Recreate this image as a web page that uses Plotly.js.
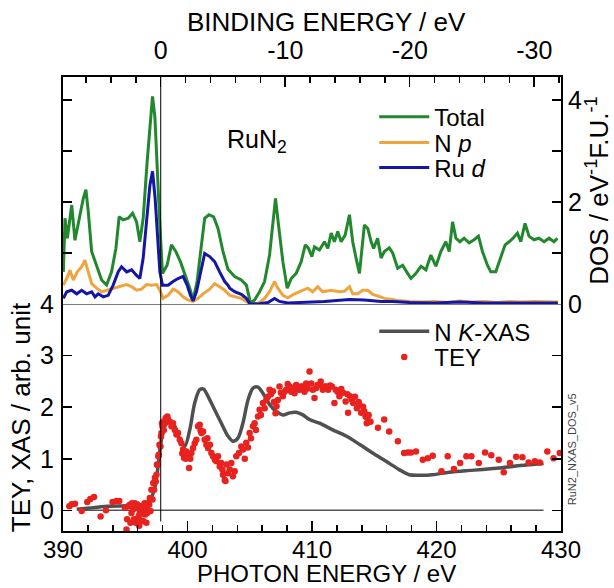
<!DOCTYPE html>
<html><head><meta charset="utf-8">
<script src="https://cdn.plot.ly/plotly-3.0.1.min.js"></script>
<style>html,body{margin:0;padding:0;background:#fff}#chart{width:614px;height:588px}</style>
</head><body><div id="chart"></div>
<script>
// ---- DOS (top panel, binding energy axis) ----
const totalBE=[7.82,7.69,7.50,7.15,6.89,6.54,6.22,6.01,5.82,5.55,5.15,4.75,4.35,3.95,3.60,3.34,3.02,2.61,2.26,1.94,1.68,1.41,1.09,0.87,0.66,0.47,0.29,0.07,-0.14,-0.51,-0.86,-1.21,-1.58,-2.01,-2.33,-2.60,-2.92,-3.27,-3.53,-3.88,-4.25,-4.60,-5.00,-5.40,-5.94,-6.47,-6.88,-7.22,-7.54,-7.94,-8.34,-8.74,-9.01,-9.22,-9.46,-9.81,-10.16,-10.48,-10.88,-11.28,-11.61,-11.87,-12.14,-12.35,-12.75,-13.15,-13.42,-13.69,-13.95,-14.22,-14.49,-14.81,-15.16,-15.42,-15.69,-15.96,-16.14,-16.36,-16.63,-16.90,-17.10,-17.42,-17.70,-17.96,-18.36,-18.63,-19.03,-19.43,-19.83,-20.10,-20.50,-20.90,-21.30,-21.70,-22.10,-22.50,-22.90,-23.17,-23.44,-23.71,-24.03,-24.37,-24.77,-25.17,-25.52,-25.84,-26.24,-26.51,-26.91,-27.31,-27.66,-27.98,-28.30,-28.65,-28.92,-29.26,-29.58,-29.98,-30.38,-30.79,-31.19,-31.59,-31.86];
const totalDOS=[0.63,1.68,1.29,1.94,1.25,1.68,2.07,2.24,1.81,1.03,0.76,0.47,0.37,0.63,1.09,1.71,1.65,1.68,1.78,1.61,1.22,1.68,2.79,3.51,4.07,3.67,2.66,1.55,0.60,0.76,1.16,1.03,0.83,0.54,0.31,0.08,0.44,1.16,1.68,1.75,1.71,1.48,1.03,0.68,0.54,0.47,0.37,0.01,0.08,0.24,0.44,0.96,1.55,2.07,1.55,0.83,0.31,0.50,0.60,0.83,1.16,1.09,0.93,1.12,1.06,1.22,1.09,1.39,1.22,1.42,1.22,1.35,1.75,1.22,0.90,0.60,1.03,1.55,1.48,1.22,1.09,1.29,0.90,1.03,1.10,1.00,0.70,0.76,0.60,0.50,0.60,0.74,0.67,0.96,0.74,1.03,1.22,1.03,1.61,1.29,1.22,1.29,1.20,1.26,1.33,1.03,0.76,0.63,0.63,0.90,1.16,1.22,1.29,1.39,1.22,1.58,1.33,1.26,1.29,1.22,1.29,1.22,1.29];
const npBE=[7.82,7.55,7.29,7.02,6.70,6.35,6.09,5.82,5.55,5.15,4.75,4.35,3.82,3.28,2.74,2.34,1.94,1.54,1.14,0.74,0.34,0.07,-0.19,-0.59,-0.99,-1.39,-1.79,-2.19,-2.60,-3.00,-3.40,-3.93,-4.33,-4.73,-5.14,-5.54,-5.94,-6.47,-7.14,-7.81,-8.34,-8.74,-9.14,-9.41,-9.81,-10.21,-10.75,-11.28,-11.81,-12.21,-12.61,-13.01,-13.69,-14.36,-14.75,-15.16,-15.42,-15.82,-16.22,-16.63,-17.03,-17.42,-17.96,-18.63,-19.0,-20.0,-21.0,-22.0,-23.0,-24.0,-25.0,-26.0,-27.0,-28.0,-29.0,-30.0,-31.0,-31.9];
const npDOS=[0.37,0.50,0.66,0.47,0.63,0.73,0.86,0.63,0.40,0.31,0.24,0.27,0.31,0.34,0.38,0.34,0.27,0.29,0.38,0.37,0.38,0.27,0.11,0.17,0.29,0.24,0.14,0.08,0.05,0.11,0.20,0.29,0.40,0.34,0.27,0.17,0.14,0.11,0.01,0.01,0.11,0.24,0.44,0.31,0.17,0.12,0.20,0.25,0.31,0.24,0.34,0.24,0.27,0.24,0.25,0.34,0.20,0.20,0.27,0.27,0.19,0.16,0.11,0.09,0.07,0.05,0.04,0.05,0.03,0.06,0.04,0.05,0.03,0.05,0.04,0.05,0.04,0.04];
const rudBE=[7.82,7.55,7.15,6.75,6.35,5.95,5.55,5.28,5.02,4.62,4.22,3.82,3.42,3.15,2.74,2.34,1.94,1.68,1.41,1.09,0.87,0.66,0.45,0.26,0.07,-0.14,-0.59,-0.99,-1.39,-1.79,-2.12,-2.39,-2.60,-2.87,-3.19,-3.53,-3.93,-4.33,-4.73,-5.14,-5.40,-5.54,-5.94,-6.47,-6.88,-7.14,-7.81,-8.61,-9.14,-9.54,-10.21,-11.81,-13.15,-15.16,-16.36,-17.70,-18.63,-20.0,-22.0,-24.0,-26.0,-28.0,-30.0,-31.9];
const rudDOS=[0.11,0.24,0.27,0.20,0.27,0.20,0.24,0.14,0.20,0.14,0.17,0.37,0.63,0.73,0.63,0.67,0.56,0.50,0.90,1.81,2.33,2.60,2.07,1.35,0.63,0.37,0.37,0.44,0.50,0.54,0.37,0.17,0.06,0.24,0.63,0.99,0.93,0.83,0.63,0.44,0.37,0.31,0.24,0.19,0.11,0.01,0.00,0.03,0.11,0.05,0.02,0.03,0.05,0.09,0.08,0.05,0.05,0.03,0.02,0.04,0.02,0.02,0.02,0.02];

// ---- XAS / TEY (bottom panel, photon energy axis) ----
const fermiE=397.85;
const xasE=[391.1,392.4,393.5,395.1,396.4,397.0,397.4,397.64,397.9,398.18,398.58,398.98,399.38,399.78,400.18,400.58,400.98,401.3,401.65,402.18,402.72,403.25,403.65,404.05,404.45,404.86,405.26,405.66,406.06,406.6,407.13,407.66,408.2,408.73,409.26,409.8,410.6,411.67,412.74,413.81,414.87,415.95,417.0,417.8,418.6,419.68,421.0,422.36,423.7,425.03,426.37,427.7,428.6];
const xasV=[0.02,0.05,0.08,0.09,0.11,0.2,0.47,0.86,1.37,1.63,1.73,1.63,1.37,1.24,1.56,2.08,2.34,2.35,2.21,1.95,1.69,1.44,1.34,1.40,1.69,2.14,2.37,2.39,2.27,2.05,1.92,1.85,1.89,1.90,1.85,1.76,1.69,1.56,1.44,1.28,1.11,0.95,0.79,0.69,0.68,0.69,0.74,0.77,0.79,0.82,0.86,0.89,0.91];
const baseE=[391.4,428.6];
const baseV=[0,0];
const teyE=[389.97,390.51,390.7,390.96,391.5,391.95,392.2,392.49,393.02,393.45,393.98,394.3,394.52,394.97,395.10,395.15,395.24,395.37,395.42,395.5,395.55,395.64,395.7,395.77,395.85,395.9,395.95,396.04,396.08,396.12,396.17,396.22,396.31,396.35,396.39,396.45,396.49,396.55,396.6,396.65,396.7,396.76,396.8,396.86,396.92,396.97,397.03,397.1,397.19,397.25,397.32,397.38,397.45,397.51,397.55,397.59,397.65,397.70,397.75,397.83,397.87,397.91,397.95,397.99,398.05,398.10,398.18,398.25,398.31,398.38,398.44,398.58,398.71,398.84,398.98,399.11,399.24,399.38,399.51,399.58,399.65,399.72,399.78,399.85,399.91,400.05,400.13,400.22,400.31,400.45,400.58,400.71,400.85,400.98,401.05,401.12,401.25,401.38,401.52,401.6,401.65,401.8,401.92,402.05,402.2,402.32,402.45,402.59,402.7,402.8,402.85,402.99,403.05,403.12,403.25,403.39,403.52,403.65,403.79,403.92,404.13,404.32,404.46,404.6,404.72,404.85,404.99,405.1,405.26,405.39,405.5,405.66,405.79,405.9,406.06,406.2,406.33,406.45,406.59,406.7,406.86,406.95,407.07,407.15,407.26,407.39,407.5,407.66,407.8,407.93,408.05,408.2,408.33,408.46,408.6,408.73,408.85,409.0,409.1,409.27,409.4,409.53,409.65,409.8,409.95,410.07,410.2,410.33,410.45,410.6,410.7,410.87,411.0,411.14,411.3,411.45,411.6,411.8,411.9,412.05,412.2,412.35,412.5,412.7,412.85,412.9,413.05,413.2,413.3,413.45,413.6,413.75,413.8,413.95,414.1,414.2,414.3,414.4,414.45,414.55,414.7,415.3,415.8,416.2,416.9,417.4,417.7,417.95,418.35,418.9,419.3,419.7,420.4,420.9,421.4,421.9,422.4,422.8,423.4,423.9,424.4,425.0,425.4,425.9,426.4,426.9,427.4,427.9,428.3,428.9,429.4,429.9];
const teyV=[-0.17,0.08,0.12,0.13,-0.01,0.16,0.22,0.26,-0.12,0.0,0.16,0.18,0.18,0.05,-0.37,-0.17,0.08,0.11,-0.24,-0.05,0.14,0.02,-0.17,0.14,-0.24,-0.17,0.12,0.05,-0.11,-0.30,-0.05,0.02,-0.2,0.08,0.08,-0.21,-0.07,0.14,-0.08,0.05,-0.24,-0.05,0.14,-0.01,0.11,0.24,-0.01,0.4,0.21,0.53,0.4,0.63,0.56,0.69,0.89,0.88,1.05,1.08,1.27,1.24,1.43,1.5,1.69,1.63,1.72,1.56,1.7,1.79,1.79,1.82,1.76,1.72,1.63,1.69,1.56,1.47,1.5,1.37,1.3,1.1,1.18,1.02,1.11,1.0,1.14,1.05,0.82,1.0,1.11,1.21,1.3,1.37,1.63,1.66,1.55,1.5,1.53,1.37,1.27,1.4,1.21,1.27,1.11,1.05,0.98,0.95,1.05,0.85,0.92,0.79,0.69,0.59,0.57,0.89,0.72,0.79,0.92,0.66,0.76,1.05,1.11,1.24,1.18,1.0,1.31,1.22,1.5,1.4,1.63,1.69,1.56,1.82,1.95,1.85,2.08,1.98,2.14,2.2,2.34,2.25,2.31,2.1,1.88,2.02,2.14,2.4,2.28,2.21,2.3,2.34,2.45,2.4,2.3,2.37,2.27,2.43,2.35,2.34,2.4,2.4,2.3,2.46,2.36,2.69,2.46,2.34,2.18,2.37,2.43,2.43,2.5,2.34,2.4,2.4,2.34,2.42,2.4,2.08,2.34,2.3,2.21,2.35,2.28,2.11,2.25,1.89,2.21,2.15,2.08,2.2,1.98,2.1,2.05,1.89,2.01,1.92,1.82,1.69,1.79,1.85,1.72,1.6,1.76,1.53,1.34,1.11,1.12,1.12,1.14,0.98,1.01,1.06,0.76,1.05,0.8,0.92,1.05,1.05,0.92,1.12,1.07,0.98,0.74,0.92,1.04,1.03,0.93,0.95,0.93,1.14,1.01,1.11];

// ---- axis ticks / labels ----
const photonRange=[390,430];
const bindingRange=[fermiE-photonRange[0], fermiE-photonRange[1]];
const bindingTicks=[0,-10,-20,-30];
const bindingTickText=['0','-10','-20','-30'];
const bindingMinor=[6,4,2,-2,-4,-6,-8,-12,-14,-16,-18,-22,-24,-26,-28,-32];
const leftTicks=[0,1,2,3,4];
const dosTicks=[0,2,4];
const dosMinor=[1,3];

const FONT='"Liberation Sans", Arial, sans-serif';

const traces=[
  {x:totalBE,y:totalDOS,xaxis:'x2',yaxis:'y2',type:'scatter',mode:'lines',name:'Total',
   line:{color:'#22882e',width:3},legend:'legend'},
  {x:npBE,y:npDOS,xaxis:'x2',yaxis:'y2',type:'scatter',mode:'lines',name:'N <i>p</i>',
   line:{color:'#f0a43e',width:3},legend:'legend3'},
  {x:rudBE,y:rudDOS,xaxis:'x2',yaxis:'y2',type:'scatter',mode:'lines',name:'Ru <i>d</i>',
   line:{color:'#1616a6',width:3},legend:'legend4'},
  {x:baseE,y:baseV,xaxis:'x',yaxis:'y',type:'scatter',mode:'lines',showlegend:false,
   line:{color:'#555',width:1.5}},
  {x:xasE,y:xasV,xaxis:'x',yaxis:'y',type:'scatter',mode:'lines',name:'N <i>K</i>-XAS',
   line:{color:'#505050',width:3.5,shape:'spline',smoothing:0.8},legend:'legend2'},
  {x:teyE,y:teyV,xaxis:'x',yaxis:'y',type:'scatter',mode:'markers',name:'TEY',cliponaxis:false,
   marker:{color:'#e8221e',size:6.5},legend:'legend5'}
];

const axBase={showgrid:false,zeroline:false,showline:true,linewidth:2,linecolor:'#000',
  ticks:'inside',tickcolor:'#000',tickwidth:1.5,tickfont:{size:25,family:FONT,color:'#000'}};

function leg(yc){
  return {x:0.625,y:yc,xanchor:'left',yanchor:'middle',bgcolor:'rgba(0,0,0,0)',
    font:{size:24,family:FONT,color:'#000'},itemwidth:50};
}

const layout={
  width:614,height:588,
  margin:{l:63,r:53,t:77,b:57},
  paper_bgcolor:'#fff',plot_bgcolor:'rgba(0,0,0,0)',
  font:{family:FONT,size:24,color:'#000'},
  showlegend:true,
  xaxis:Object.assign({},axBase,{domain:[0,1],anchor:'y',range:photonRange,tick0:390,dtick:10,ticklen:10,
    ticklabelstandoff:-4,tickfont:{size:24,family:FONT,color:'#000'},
    minor:{dtick:2,tick0:390,ticklen:6,ticks:'inside',tickwidth:1.5,tickcolor:'#000'}}),
  xaxis2:Object.assign({},axBase,{domain:[0,1],anchor:'y2',side:'top',range:bindingRange,
    tickmode:'array',tickvals:bindingTicks,ticktext:bindingTickText,ticklen:10,
    ticklabelstandoff:6,
    minor:{tickmode:'array',tickvals:bindingMinor,ticklen:6,ticks:'inside',tickwidth:1.5,tickcolor:'#000'}}),
  yaxis:Object.assign({},axBase,{domain:[0,0.5],anchor:'x',range:[-0.4,4],tickvals:leftTicks,ticklen:9,mirror:'ticks',
    ticklabelstandoff:2,
    title:{text:'TEY, XAS / arb. unit',font:{size:26,family:FONT},standoff:2}}),
  yaxis2:Object.assign({},axBase,{domain:[0.5,1],anchor:'x2',side:'right',range:[0,4.45],
    tickmode:'array',tickvals:dosTicks,ticklen:9,mirror:'ticks',
    minor:{tickmode:'array',tickvals:dosMinor,ticklen:9,ticks:'inside',tickwidth:1.5,tickcolor:'#000'},
    title:{text:'DOS / eV<sup>-1</sup>F.U.<sup>-1</sup>',font:{size:26,family:FONT},standoff:6}}),
  legend:leg(0.9113),
  legend3:leg(0.8548),
  legend4:leg(0.8000),
  legend2:leg(0.4393),
  legend5:leg(0.3822),
  shapes:[
    {type:'line',xref:'x',yref:'paper',x0:fermiE,x1:fermiE,y0:0.021,y1:1,line:{color:'#000',width:1}},
    {type:'line',xref:'paper',yref:'y',x0:0,x1:1,y0:4,y1:4,line:{color:'#000',width:1}}
  ],
  annotations:[
    {xref:'paper',yref:'paper',x:0.53,y:1.121,text:'BINDING ENERGY / eV',showarrow:false,font:{size:26,family:FONT},xanchor:'center',yanchor:'middle'},
    {xref:'paper',yref:'paper',x:0.53,y:-0.0932,text:'PHOTON ENERGY / eV',showarrow:false,font:{size:24,family:FONT},xanchor:'center',yanchor:'middle'},
    {xref:'paper',yref:'paper',x:0.39,y:0.859,text:'RuN<sub>2</sub>',showarrow:false,font:{size:25,family:FONT},xanchor:'center',yanchor:'middle'},
    {xref:'paper',yref:'paper',x:1.022,y:0.18,text:'RuN2_NXAS_DOS_v5',showarrow:false,textangle:-90,font:{size:11,family:FONT,color:'#444'},xanchor:'center',yanchor:'middle'}
  ]
};

Plotly.newPlot('chart',traces,layout,{displayModeBar:false,staticPlot:true});
</script>
</body></html>
